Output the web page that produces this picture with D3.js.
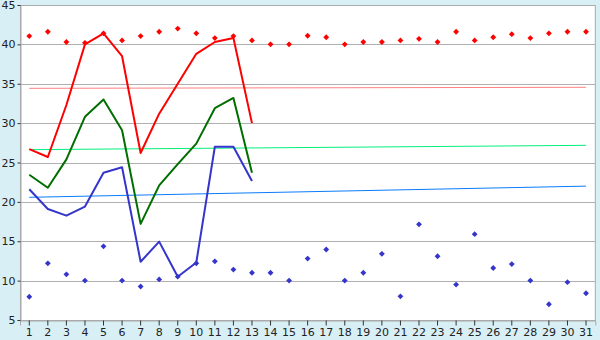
<!DOCTYPE html>
<html>
<head>
<meta charset="utf-8">
<script src="https://cdn.jsdelivr.net/npm/d3@7"></script>
<style>
	html, body { margin: 0; padding: 0; background: #d9eff6; }
	svg { display: block; font-family: "DejaVu Sans", Verdana, sans-serif; }
</style>
</head>
<body>
<svg id="chart" width="600" height="340"></svg>
<script>
const days = d3.range(1, 32);
const yTicks = [5, 10, 15, 20, 25, 30, 35, 40, 45];

// main lines, days 1..13
const redLine = [26.7, 25.7, 32.3, 40.0, 41.4, 38.5, 26.2, 31.2, 35.0, 38.8, 40.3, 40.8, 30.0];
const greenLine = [23.45, 21.8, 25.4, 30.8, 33.0, 29.1, 17.2, 22.1, 24.8, 27.4, 31.9, 33.2, 23.7];
const blueLine = [21.6, 19.1, 18.25, 19.4, 23.7, 24.4, 12.4, 14.95, 10.5, 12.3, 27.0, 27.0, 22.65];

// markers, days 1..31
const redMarks = [41.05, 41.6, 40.3, 40.2, 41.4, 40.5, 41.05, 41.6, 42.0, 41.4, 40.8, 41.05, 40.5, 40.0, 40.0,
	41.1, 40.9, 40.0, 40.3, 40.3, 40.5, 40.7, 40.3, 41.6, 40.5, 40.9, 41.3, 40.8, 41.4, 41.6, 41.6];
const blueMarks = [7.95, 12.2, 10.8, 10.0, 14.35, 10.0, 9.25, 10.15, 10.5, 12.2, 12.45, 11.4, 11.0, 11.0, 10.0,
	12.8, 13.95, 10.0, 11.0, 13.4, 8.0, 17.15, 13.1, 9.5, 15.9, 11.6, 12.1, 10.0, 7.0, 9.8, 8.4];

// trend lines, value at day 1 and day 31
const redTrend = [34.42, 34.55];
const greenTrend = [26.63, 27.18];
const blueTrend = [20.58, 22.0];

(function () {
	const svg = d3.select("#chart");
	const left = 20, right = 595.3, plotTop = 5, plotBottom = 320;

	const x = d3.scaleBand().domain(days).range([left, right]);
	const cx = (d) => x(d) + x.bandwidth() / 2;
	const y = d3.scaleLinear().domain([5, 45]).range([plotBottom, plotTop]);

	svg.append("rect")
		.attr("x", left).attr("y", plotTop)
		.attr("width", right - left).attr("height", plotBottom - plotTop)
		.attr("fill", "#fff");

	// grid
	svg.append("g")
		.selectAll("line")
		.data(yTicks)
		.join("line")
		.attr("x1", left).attr("x2", right)
		.attr("y1", (d) => Math.round(y(d)) + 0.5)
		.attr("y2", (d) => Math.round(y(d)) + 0.5)
		.attr("stroke", "#b0b0b0");

	// border
	svg.append("rect")
		.attr("x", left + 0.5).attr("y", plotTop + 0.5)
		.attr("width", right - left - 0.5).attr("height", plotBottom - plotTop)
		.attr("fill", "none")
		.attr("stroke", "#aaa");

	// axes
	const yAxis = svg.append("g")
		.attr("transform", `translate(${left + 0.5},0)`)
		.call(d3.axisLeft(y).tickValues(yTicks).tickSize(3).tickPadding(2));
	const xAxis = svg.append("g")
		.attr("transform", `translate(0,${plotBottom + 0.5})`)
		.call(d3.axisBottom(x).tickSize(5).tickPadding(3));

	for (const ax of [yAxis, xAxis]) {
		ax.select(".domain").attr("stroke", "#aaa");
		ax.selectAll(".tick line").attr("stroke", "#333");
		ax.selectAll("text")
			.attr("fill", "#222")
			.style("font-size", "11px")
			.style("font-family", "'DejaVu Sans', Verdana, sans-serif");
	}

	// trend lines
	const trends = [
		{ vals: redTrend, color: "#ff8080" },
		{ vals: greenTrend, color: "#00f07a" },
		{ vals: blueTrend, color: "#0a7cff" }
	];
	svg.append("g")
		.selectAll("line")
		.data(trends)
		.join("line")
		.attr("x1", cx(1)).attr("x2", cx(31))
		.attr("y1", (d) => y(d.vals[0]))
		.attr("y2", (d) => y(d.vals[1]))
		.attr("stroke", (d) => d.color)
		.attr("stroke-width", 1);

	// main lines
	const line = d3.line()
		.x((d, i) => cx(days[i]))
		.y((d) => y(d));

	const series = [
		{ vals: blueLine, color: "#3535cc" },
		{ vals: greenLine, color: "#006e00" },
		{ vals: redLine, color: "#ff0000" }
	];
	svg.append("g")
		.attr("fill", "none")
		.selectAll("path")
		.data(series)
		.join("path")
		.attr("d", (d) => line(d.vals))
		.attr("stroke", (d) => d.color)
		.attr("stroke-width", 2)
		.attr("stroke-linejoin", "round");

	// markers: small square turned on its corner
	const marker = d3.symbol().type(d3.symbolSquare).size(17);
	const markSets = [
		{ vals: blueMarks, color: "#3535cc" },
		{ vals: redMarks, color: "#ff0000" }
	];
	for (const set of markSets) {
		svg.append("g")
			.selectAll("path")
			.data(set.vals)
			.join("path")
			.attr("d", marker)
			.attr("transform", (d, i) => `translate(${cx(days[i])},${y(d)}) rotate(45)`)
			.attr("fill", set.color);
	}
})();
</script>
</body>
</html>
